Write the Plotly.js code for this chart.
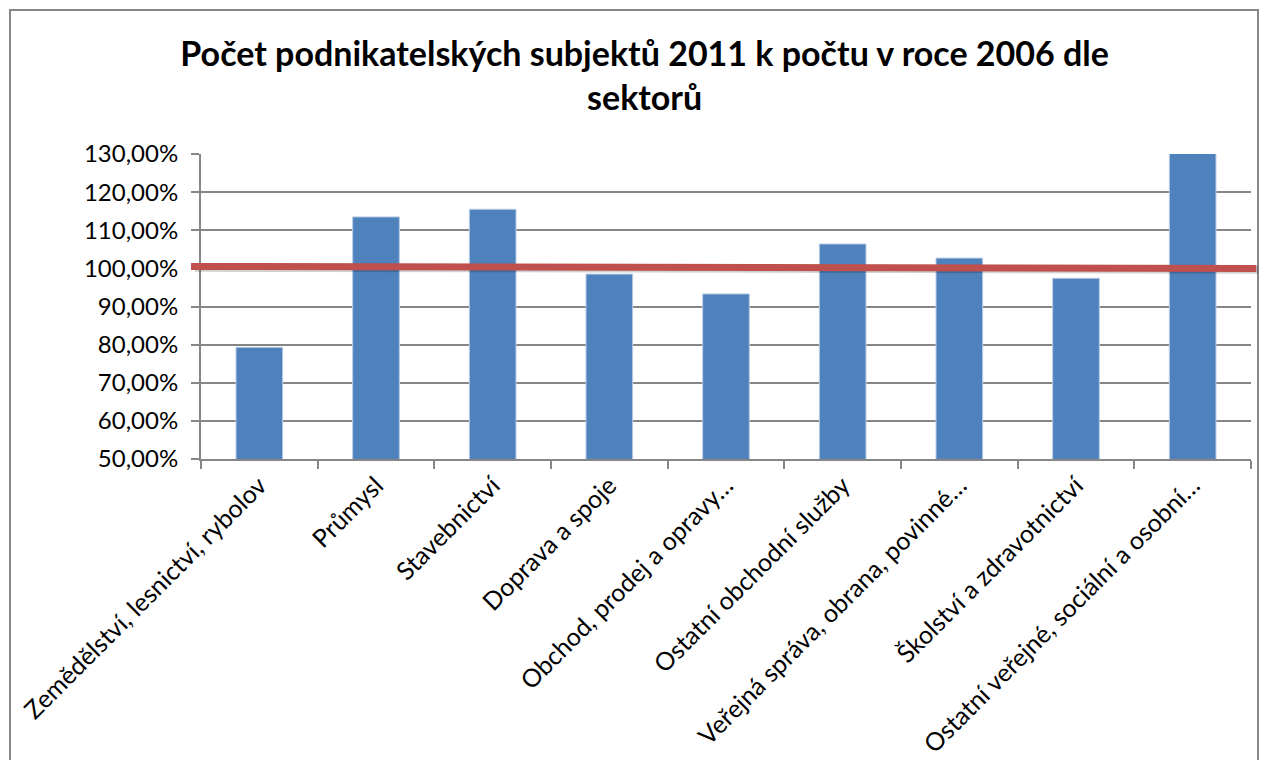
<!DOCTYPE html>
<html>
<head>
<meta charset="utf-8">
<script src="https://cdn.plot.ly/plotly-3.0.1.min.js"></script>
<style>
  html, body { margin: 0; padding: 0; background: #ffffff; overflow: hidden; }
  #frame { position: absolute; left: 9px; top: 9px; width: 1250px; height: 800px; border: 2px solid #868686; box-sizing: border-box; }
  #chart { position: absolute; left: 0; top: 0; width: 1269px; height: 760px; }
</style>
</head>
<body>
<div id="frame"></div>
<div id="chart"></div>
<script>
// Categories (sectors)
const categories = [
  "Zemědělství, lesnictví, rybolov",
  "Průmysl",
  "Stavebnictví",
  "Doprava a spoje",
  "Obchod, prodej a opravy…",
  "Ostatní obchodní služby",
  "Veřejná správa, obrana, povinné…",
  "Školství a zdravotnictví",
  "Ostatní veřejné, sociální a osobní…"
];
// Ratio 2011 / 2006 in percent
const values = [79.3, 113.5, 115.5, 98.5, 93.3, 106.4, 102.7, 97.4, 135.0];
// Reference line (left end, right end) in percent
const refLine = [100.5, 100.0];
// Y axis ticks
const yTicks = [50, 60, 70, 80, 90, 100, 110, 120, 130];
const yTickText = yTicks.map(v => v.toFixed(2).replace(".", ",") + "%");

const font = "Lato, 'Open Sans', sans-serif";

const trace = {
  type: "bar",
  x: categories,
  y: values,
  marker: { color: "#4F81BD", line: { color: "#B9CDE5", width: 1 } },
  hoverinfo: "none"
};

const layout = {
  width: 1269,
  height: 760,
  paper_bgcolor: "rgba(0,0,0,0)",
  plot_bgcolor: "rgba(0,0,0,0)",
  margin: { l: 201, r: 18, t: 154, b: 301 },
  showlegend: false,
  bargap: 0.6,
  font: { family: font, color: "#000000", size: 24 },
  title: {
    text: "<b>Počet podnikatelských subjektů 2011 k počtu v roce 2006 dle<br>sektorů</b>",
    x: 0.508, xanchor: "center",
    y: 1 - 66 / 760, yanchor: "top", yref: "container",
    font: { family: font, size: 34, color: "#000000" }
  },
  xaxis: {
    type: "category",
    tickangle: -45,
    showline: true, linecolor: "#868686", linewidth: 2,
    ticks: "outside", tickson: "boundaries", ticklen: 8, tickcolor: "#868686", tickwidth: 2,
    showgrid: false,
    tickfont: { family: font, size: 25, color: "#000000" }
  },
  yaxis: {
    range: [50, 130],
    tickvals: yTicks,
    ticktext: yTickText,
    showline: true, linecolor: "#868686", linewidth: 2,
    ticks: "outside", ticklen: 8, tickcolor: "#868686", tickwidth: 2,
    showgrid: true, gridcolor: "#868686", gridwidth: 2,
    zeroline: false,
    ticklabelstandoff: 8,
    tickfont: { family: font, size: 24, color: "#000000" }
  },
  shapes: [
    { type: "line", xref: "paper", yref: "y", x0: -0.006, x1: 1.007,
      y0: refLine[0] - 0.35, y1: refLine[1] - 0.35,
      line: { color: "rgba(0,0,0,0.18)", width: 8 }, layer: "above" },
    { type: "line", xref: "paper", yref: "y", x0: -0.0095, x1: 1.005,
      y0: refLine[0], y1: refLine[1],
      line: { color: "#C0504D", width: 7 }, layer: "above" }
  ]
};

Plotly.newPlot("chart", [trace], layout, { staticPlot: true, displayModeBar: false });
</script>
</body>
</html>
